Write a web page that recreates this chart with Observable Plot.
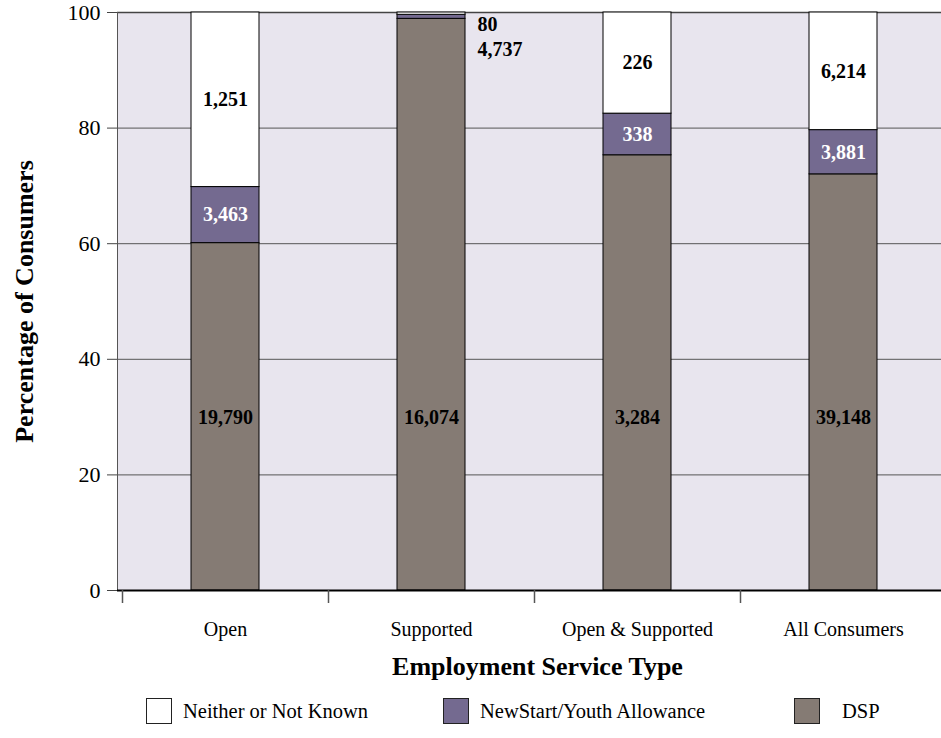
<!DOCTYPE html>
<html>
<head>
<meta charset="utf-8">
<script src="https://cdn.jsdelivr.net/npm/d3@7"></script>
<script src="https://cdn.jsdelivr.net/npm/@observablehq/plot@0.6"></script>
<style>
html, body { margin: 0; padding: 0; background: #fff; overflow: hidden; width: 941px; height: 738px; }
#chart { position: relative; width: 941px; height: 738px; font-family: "Liberation Serif", "Times New Roman", serif; }
#legend { position: absolute; left: 0; top: 698px; width: 941px; height: 27px; }
.sw { position: absolute; top: 0; width: 26px; height: 26px; border: 1px solid #222; box-sizing: border-box; }
.lt { position: absolute; top: 0; height: 26px; line-height: 26px; font-size: 20.5px; color: #000; white-space: nowrap; font-family: "Liberation Serif", "Times New Roman", serif; }
</style>
</head>
<body>
<div id="chart"><div id="legend"></div></div>
<script>
// ---- data ----
const categories = ["Open", "Supported", "Open & Supported", "All Consumers"];
const seriesNames = ["DSP", "NewStart/Youth Allowance", "Neither or Not Known"];
const dspPct = [60.1, 98.9, 75.3, 72.0];
const newstartPct = [9.7, 0.7, 7.2, 7.65];
const neitherPct = [30.2, 0.4, 17.5, 20.35];
const dspCount = [19790, 16074, 3284, 39148];
const newstartCount = [3463, 80, 338, 3881];
const neitherCount = [1251, 4737, 226, 6214];
const yTicks = [0, 20, 40, 60, 80, 100];
const seriesColors = ["#857b74", "#746a90", "#ffffff"];
const legendOrder = ["Neither or Not Known", "NewStart/Youth Allowance", "DSP"];

// ---- tidy table ----
const pctBySeries = [dspPct, newstartPct, neitherPct];
const countBySeries = [dspCount, newstartCount, neitherCount];
const rows = [];
categories.forEach((c, i) => {
  let base = 0;
  seriesNames.forEach((s, k) => {
    const p = pctBySeries[k][i];
    rows.push({category: c, series: s, k, pct: p, count: countBySeries[k][i], y1: base, y2: base + p, mid: base + p / 2});
    base += p;
  });
});
const fmt = d3.format(",");
const dspLabelAt = 30;
const inside = rows.filter(d => d.pct >= 3);
const outside = rows.filter(d => d.pct < 3);
outside.forEach((d, j, arr) => { d.row = arr.filter(e => e.category === d.category).indexOf(d); });

const serif = "'Liberation Serif', 'Times New Roman', serif";
const plot = Plot.plot({
  width: 941,
  height: 692,
  marginTop: 12,
  marginBottom: 102,
  marginLeft: 117,
  marginRight: 0,
  style: {fontFamily: serif, fontSize: "21px", background: "transparent", color: "#000"},
  x: {domain: categories, range: [121, 946], paddingInner: 0.672, paddingOuter: 0.336, label: null},
  y: {domain: [0, 100], label: null},
  color: {domain: seriesNames, range: seriesColors},
  marks: [
    Plot.frame({fill: "#e8e5ee", stroke: null}),
    Plot.gridY({ticks: yTicks, stroke: "#555", strokeOpacity: 1, strokeWidth: 1}),
    Plot.ruleY([100], {stroke: "#444", strokeWidth: 1.5}),
    Plot.frame({anchor: "left", stroke: "#555", strokeWidth: 1}),
    Plot.barY(rows, {x: "category", y1: "y1", y2: "y2", fill: "series", stroke: "#000", strokeWidth: 1}),
    Plot.ruleY([0], {stroke: "#000", strokeWidth: 2}),
    Plot.ruleX(categories, {x: d => d, y1: 0, y2: 0, insetBottom: -13, dx: -103, stroke: "#555", strokeWidth: 1.5}),
    Plot.axisY({ticks: yTicks, tickSize: 10, tickPadding: 7, fontSize: 22, stroke: "#444", label: null}),
    Plot.axisX({tickSize: 0, tickPadding: 31, fontSize: 20, label: null}),
    // inside labels
    Plot.text(inside.filter(d => d.k === 0), {x: "category", y: () => dspLabelAt, text: d => fmt(d.count), fill: "#000", fontWeight: "bold", fontSize: 20}),
    Plot.text(inside.filter(d => d.k === 1), {x: "category", y: "mid", text: d => fmt(d.count), fill: "#fff", fontWeight: "bold", fontSize: 20}),
    Plot.text(inside.filter(d => d.k === 2), {x: "category", y: "mid", text: d => fmt(d.count), fill: "#000", fontWeight: "bold", fontSize: 20}),
    // outside labels for thin segments
    Plot.text(outside.filter(d => d.row === 0), {x: "category", y: () => 100, dx: 46, dy: 12.5, textAnchor: "start", text: d => fmt(d.count), fill: "#000", fontWeight: "bold", fontSize: 20}),
    Plot.text(outside.filter(d => d.row === 1), {x: "category", y: () => 100, dx: 46, dy: 37.5, textAnchor: "start", text: d => fmt(d.count), fill: "#000", fontWeight: "bold", fontSize: 20}),
    // axis titles
    Plot.text(["Percentage of Consumers"], {frameAnchor: "left", dx: -93, rotate: -90, textAnchor: "middle", text: d => d, fontWeight: "bold", fontSize: 26, fill: "#000"}),
    Plot.text(["Employment Service Type"], {frameAnchor: "bottom", dx: 8, dy: 84, textAnchor: "middle", text: d => d, fontWeight: "bold", fontSize: 26, fill: "#000"})
  ]
});
document.getElementById("chart").prepend(plot);

// ---- legend ----
const legendPos = [{sw: 146, tx: 183}, {sw: 443, tx: 480}, {sw: 794, tx: 842}];
const legend = document.getElementById("legend");
legendOrder.forEach((name, i) => {
  const sw = document.createElement("div");
  sw.className = "sw";
  sw.style.left = legendPos[i].sw + "px";
  sw.style.background = seriesColors[seriesNames.indexOf(name)];
  legend.appendChild(sw);
  const t = document.createElement("div");
  t.className = "lt";
  t.style.left = legendPos[i].tx + "px";
  t.textContent = name;
  legend.appendChild(t);
});
</script>
</body>
</html>
